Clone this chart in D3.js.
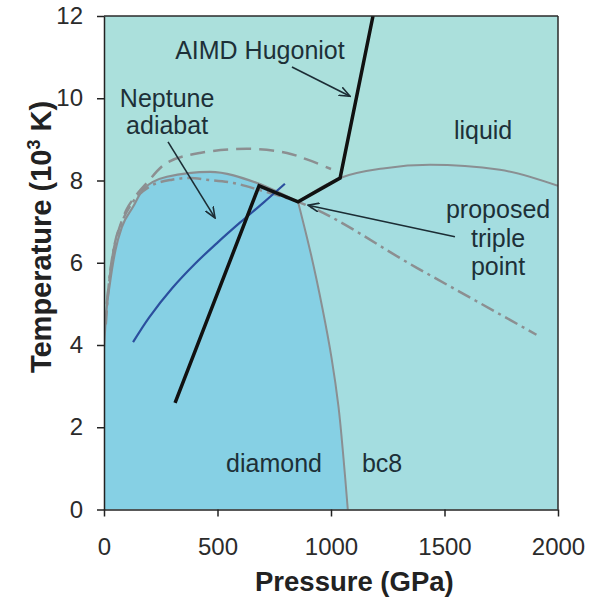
<!DOCTYPE html>
<html>
<head>
<meta charset="utf-8">
<script src="https://cdn.jsdelivr.net/npm/d3@7"></script>
<style>
  html, body { margin: 0; padding: 0; background: #fff; }
  svg { display: block; font-family: "Liberation Sans", Arial, Helvetica, sans-serif; }
</style>
</head>
<body>
<svg id="chart" width="601" height="598"></svg>
<script>
// pressure in GPa, temperature in 10^3 K
const xTicks = [0, 500, 1000, 1500, 2000];
const yTicks = [0, 2, 4, 6, 8, 10, 12];

// diamond melting line (solid gray), P and T
const diamondMeltP = [0, 10, 26, 50, 79, 128, 172, 277, 467, 674, 855];
const diamondMeltT = [3.95, 4.8, 5.5, 6.3, 6.87, 7.36, 7.78, 8.09, 8.21, 7.94, 7.48];

// diamond / bc8 boundary
const bc8BoundaryP = [855, 912, 962, 1002, 1033, 1055, 1074];
const bc8BoundaryT = [7.48, 6.2, 4.9, 3.7, 2.5, 1.25, 0];

// bc8 melting line
const bc8MeltP = [855, 1040, 1238, 1436, 1744, 2000];
const bc8MeltT = [7.48, 8.06, 8.30, 8.38, 8.26, 7.87];

// long dashed curve
const dashedP = [12, 20, 50, 100, 150, 190, 277, 422, 642, 806, 900, 1000];
const dashedT = [5.0, 5.4, 6.5, 7.3, 7.7, 7.95, 8.43, 8.67, 8.77, 8.67, 8.5, 8.28];

// dash-dot curve
const dashDotP = [8, 20, 45, 80, 130, 200, 300, 380, 450, 570, 690, 855, 1380, 1905];
const dashDotT = [4.5, 5.4, 6.4, 7.0, 7.5, 7.85, 8.02, 8.06, 8.02, 7.94, 7.76, 7.48, 5.87, 4.25];

// AIMD Hugoniot
const hugoniotP = [313, 683, 855, 1040, 1185];
const hugoniotT = [2.59, 7.87, 7.48, 8.06, 12];

// Neptune adiabat
const adiabatP = [128, 200, 300, 400, 500, 600, 700, 797];
const adiabatT = [4.07, 4.68, 5.38, 5.97, 6.49, 6.98, 7.45, 7.92];

// annotation arrows: tail -> head
const arrowTailP = [828, 282, 1546];
const arrowTailT = [10.76, 8.94, 6.63];
const arrowHeadP = [1084, 489, 899];
const arrowHeadT = [10.05, 7.09, 7.4];

// annotation labels
const labelText = ["AIMD Hugoniot", "Neptune", "adiabat", "liquid", "proposed", "triple", "point", "diamond", "bc8"];
const labelP = [687, 278, 278, 1670, 1736, 1736, 1736, 749, 1225];
const labelT = [10.95, 9.79, 9.13, 9.01, 7.09, 6.38, 5.70, 0.91, 0.91];

const zip = (ps, ts) => ps.map((p, i) => ({ p: p, t: ts[i] }));

const margin = { top: 16, right: 43, bottom: 88.5, left: 104 };
const width = 601 - margin.left - margin.right;
const height = 598 - margin.top - margin.bottom;

const svg = d3.select("#chart");
const g = svg.append("g").attr("transform", `translate(${margin.left},${margin.top})`);

const x = d3.scaleLinear().domain([0, 2000]).range([0, width]);
const y = d3.scaleLinear().domain([0, 12]).range([height, 0]);

g.append("clipPath").attr("id", "plotClip")
  .append("rect").attr("width", width).attr("height", height);

const plot = g.append("g").attr("clip-path", "url(#plotClip)");

// liquid background
plot.append("rect").attr("width", width).attr("height", height).attr("fill", "#abe0dc");

const lineX = d3.line().x(d => x(d.p)).y(d => y(d.t)).curve(d3.curveMonotoneX);
const lineC = d3.line().x(d => x(d.p)).y(d => y(d.t)).curve(d3.curveCatmullRom);

const diamondMelt = zip(diamondMeltP, diamondMeltT);
const boundary = zip(bc8BoundaryP, bc8BoundaryT);
const bc8Melt = zip(bc8MeltP, bc8MeltT);

// bc8 region
const bc8Path = lineX(bc8Melt)
  + `L${x(2000)},${y(0)}L${x(1074)},${y(0)}`
  + lineC(boundary.slice().reverse()).replace(/^M/, "L") + "Z";
plot.append("path").attr("d", bc8Path).attr("fill", "#a4dde0");

// diamond region
const diamondPath = `M${x(0)},${y(0)}` + lineX(diamondMelt).replace(/^M/, "L")
  + lineC(boundary).replace(/^M/, "L") + "Z";
plot.append("path").attr("d", diamondPath).attr("fill", "#86d0e4");

// phase lines
plot.append("path").attr("d", lineX(diamondMelt))
  .attr("fill", "none").attr("stroke", "#8a8f92").attr("stroke-width", 2.2);
plot.append("path").attr("d", lineC(boundary))
  .attr("fill", "none").attr("stroke", "#8a8f92").attr("stroke-width", 2);
plot.append("path").attr("d", lineX(bc8Melt))
  .attr("fill", "none").attr("stroke", "#8a8f92").attr("stroke-width", 2);

plot.append("path").attr("d", lineC(zip(dashedP, dashedT)))
  .attr("fill", "none").attr("stroke", "#8c8f91").attr("stroke-width", 2.5)
  .attr("stroke-dasharray", "15 8");
plot.append("path").attr("d", lineX(zip(dashDotP, dashDotT)))
  .attr("fill", "none").attr("stroke", "#8c8f91").attr("stroke-width", 2.5)
  .attr("stroke-dasharray", "14 5 3 5");

// Neptune adiabat
plot.append("path").attr("d", lineC(zip(adiabatP, adiabatT)))
  .attr("fill", "none").attr("stroke", "#2b4f9e").attr("stroke-width", 2.2);

// AIMD Hugoniot
plot.append("path").attr("d", d3.line().x(d => x(d.p)).y(d => y(d.t))(zip(hugoniotP, hugoniotT)))
  .attr("fill", "none").attr("stroke", "#111").attr("stroke-width", 3.5)
  .attr("stroke-linejoin", "miter");

// arrows
svg.append("defs").append("marker")
  .attr("id", "head").attr("viewBox", "0 -5 12 10")
  .attr("refX", 11).attr("refY", 0)
  .attr("markerWidth", 12).attr("markerHeight", 10)
  .attr("markerUnits", "userSpaceOnUse").attr("orient", "auto")
  .append("path").attr("d", "M0,-4.5L11,0L0,4.5")
  .attr("fill", "none").attr("stroke", "#1c2d35").attr("stroke-width", 1.6);

plot.selectAll(".arrow").data(arrowTailP).join("line")
  .attr("class", "arrow")
  .attr("x1", (d, i) => x(arrowTailP[i])).attr("y1", (d, i) => y(arrowTailT[i]))
  .attr("x2", (d, i) => x(arrowHeadP[i])).attr("y2", (d, i) => y(arrowHeadT[i]))
  .attr("stroke", "#1c2d35").attr("stroke-width", 1.6)
  .attr("marker-end", "url(#head)");

// labels
g.selectAll(".lbl").data(labelText).join("text")
  .attr("class", "lbl")
  .attr("x", (d, i) => x(labelP[i])).attr("y", (d, i) => y(labelT[i]))
  .attr("text-anchor", "middle")
  .style("font-size", "25px").style("fill", "#1d3038")
  .text(d => d);

// frame
g.append("line").attr("x1", 0).attr("x2", width).attr("y1", 0).attr("y2", 0)
  .attr("stroke", "#2a2a2a").attr("stroke-width", 1.5);
g.append("line").attr("x1", width).attr("x2", width).attr("y1", 0).attr("y2", height)
  .attr("stroke", "#2a2a2a").attr("stroke-width", 1.5);

// axes
const xAxis = d3.axisBottom(x).tickValues(xTicks).tickFormat(d3.format("d"))
  .tickSize(7).tickPadding(21).tickSizeOuter(0);
const yAxis = d3.axisLeft(y).tickValues(yTicks).tickSize(7).tickPadding(14).tickSizeOuter(0);

const gx = g.append("g").attr("transform", `translate(0,${height})`).call(xAxis);
const gy = g.append("g").call(yAxis);

[gx, gy].forEach(a => {
  a.select(".domain").attr("stroke", "#222").attr("stroke-width", 1.5);
  a.selectAll(".tick line").attr("stroke", "#222").attr("stroke-width", 1.5);
  a.selectAll(".tick text")
    .style("font-family", "'Liberation Sans', Arial, sans-serif")
    .style("font-size", "24px").style("fill", "#2b2b2b");
});

// axis titles
svg.append("text")
  .attr("x", 255).attr("y", 591)
  .style("font-size", "27.5px").style("font-weight", "bold").style("fill", "#222")
  .text("Pressure (GPa)");

const yTitle = svg.append("text")
  .attr("transform", "translate(51,237) rotate(-90)")
  .attr("text-anchor", "middle")
  .style("font-size", "29px").style("font-weight", "bold").style("fill", "#222");
yTitle.append("tspan").text("Temperature (10");
yTitle.append("tspan").attr("dy", -11).style("font-size", "18px").text("3");
yTitle.append("tspan").attr("dy", 11).text(" K)");
</script>
</body>
</html>
